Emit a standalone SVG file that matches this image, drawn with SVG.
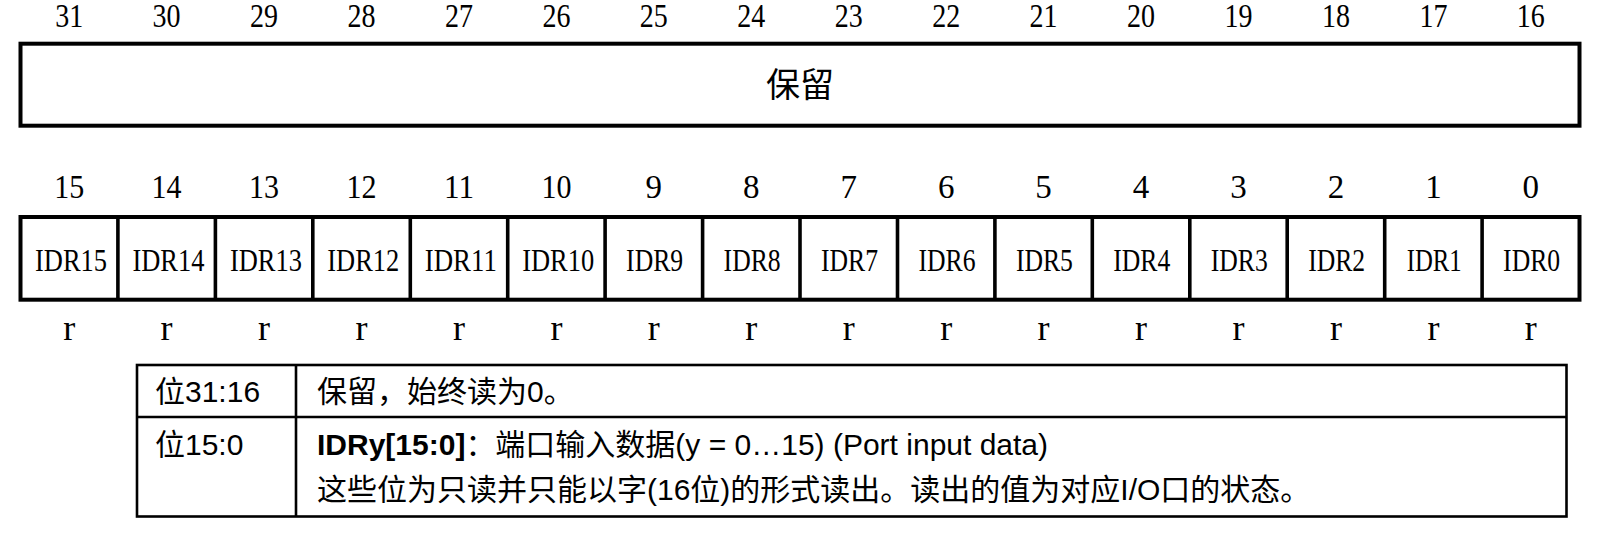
<svg xmlns="http://www.w3.org/2000/svg" width="1612" height="546" viewBox="0 0 1612 546">
<style>
.box{fill:#fff;stroke:#000;stroke-width:4}
.div{stroke:#000;stroke-width:3.6}
.num{font-family:"Liberation Serif",serif;font-size:33px;text-anchor:middle;fill:#000}
.lbl{font-family:"Liberation Serif",serif;font-size:32px;text-anchor:middle;fill:#000}
.acc{font-family:"Liberation Serif",serif;font-size:36px;text-anchor:middle;fill:#000}
.cjk{font-family:"Noto Sans CJK SC",sans-serif;font-size:34px;text-anchor:middle;fill:#000}
.tbl{fill:none;stroke:#000;stroke-width:2.6}
.tx{font-family:"Liberation Sans","Noto Sans CJK SC",sans-serif;font-size:30px;fill:#000}
</style>
<rect width="1612" height="546" fill="#fff"/>
<g id="bits-high-numbers">
<text class="num" x="69.2" y="27" textLength="28" lengthAdjust="spacingAndGlyphs">31</text>
<text class="num" x="166.6" y="27" textLength="28" lengthAdjust="spacingAndGlyphs">30</text>
<text class="num" x="264.1" y="27" textLength="28" lengthAdjust="spacingAndGlyphs">29</text>
<text class="num" x="361.5" y="27" textLength="28" lengthAdjust="spacingAndGlyphs">28</text>
<text class="num" x="459.0" y="27" textLength="28" lengthAdjust="spacingAndGlyphs">27</text>
<text class="num" x="556.4" y="27" textLength="28" lengthAdjust="spacingAndGlyphs">26</text>
<text class="num" x="653.8" y="27" textLength="28" lengthAdjust="spacingAndGlyphs">25</text>
<text class="num" x="751.3" y="27" textLength="28" lengthAdjust="spacingAndGlyphs">24</text>
<text class="num" x="848.7" y="27" textLength="28" lengthAdjust="spacingAndGlyphs">23</text>
<text class="num" x="946.2" y="27" textLength="28" lengthAdjust="spacingAndGlyphs">22</text>
<text class="num" x="1043.6" y="27" textLength="28" lengthAdjust="spacingAndGlyphs">21</text>
<text class="num" x="1141.0" y="27" textLength="28" lengthAdjust="spacingAndGlyphs">20</text>
<text class="num" x="1238.5" y="27" textLength="28" lengthAdjust="spacingAndGlyphs">19</text>
<text class="num" x="1335.9" y="27" textLength="28" lengthAdjust="spacingAndGlyphs">18</text>
<text class="num" x="1433.4" y="27" textLength="28" lengthAdjust="spacingAndGlyphs">17</text>
<text class="num" x="1530.8" y="27" textLength="28" lengthAdjust="spacingAndGlyphs">16</text>
</g>
<g id="reserved-field">
<rect class="box" x="20.5" y="43.7" width="1559" height="82"/>
<text class="cjk" x="800" y="97">保留</text>
</g>
<g id="bits-low-numbers">
<text class="num" x="69.2" y="198" textLength="30" lengthAdjust="spacingAndGlyphs">15</text>
<text class="num" x="166.6" y="198" textLength="30" lengthAdjust="spacingAndGlyphs">14</text>
<text class="num" x="264.1" y="198" textLength="30" lengthAdjust="spacingAndGlyphs">13</text>
<text class="num" x="361.5" y="198" textLength="30" lengthAdjust="spacingAndGlyphs">12</text>
<text class="num" x="459.0" y="198" textLength="30" lengthAdjust="spacingAndGlyphs">11</text>
<text class="num" x="556.4" y="198" textLength="30" lengthAdjust="spacingAndGlyphs">10</text>
<text class="num" x="653.8" y="198">9</text>
<text class="num" x="751.3" y="198">8</text>
<text class="num" x="848.7" y="198">7</text>
<text class="num" x="946.2" y="198">6</text>
<text class="num" x="1043.6" y="198">5</text>
<text class="num" x="1141.0" y="198">4</text>
<text class="num" x="1238.5" y="198">3</text>
<text class="num" x="1335.9" y="198">2</text>
<text class="num" x="1433.4" y="198">1</text>
<text class="num" x="1530.8" y="198">0</text>
</g>
<g id="idr-register">
<rect class="box" x="20.5" y="217" width="1559" height="82.7"/>
<line class="div" x1="117.9" y1="217" x2="117.9" y2="299.7"/>
<line class="div" x1="215.4" y1="217" x2="215.4" y2="299.7"/>
<line class="div" x1="312.8" y1="217" x2="312.8" y2="299.7"/>
<line class="div" x1="410.3" y1="217" x2="410.3" y2="299.7"/>
<line class="div" x1="507.7" y1="217" x2="507.7" y2="299.7"/>
<line class="div" x1="605.1" y1="217" x2="605.1" y2="299.7"/>
<line class="div" x1="702.6" y1="217" x2="702.6" y2="299.7"/>
<line class="div" x1="800.0" y1="217" x2="800.0" y2="299.7"/>
<line class="div" x1="897.5" y1="217" x2="897.5" y2="299.7"/>
<line class="div" x1="994.9" y1="217" x2="994.9" y2="299.7"/>
<line class="div" x1="1092.3" y1="217" x2="1092.3" y2="299.7"/>
<line class="div" x1="1189.8" y1="217" x2="1189.8" y2="299.7"/>
<line class="div" x1="1287.2" y1="217" x2="1287.2" y2="299.7"/>
<line class="div" x1="1384.7" y1="217" x2="1384.7" y2="299.7"/>
<line class="div" x1="1482.1" y1="217" x2="1482.1" y2="299.7"/>
<g id="idr-labels">
<text class="lbl" x="71" y="271" textLength="72" lengthAdjust="spacingAndGlyphs">IDR15</text>
<text class="lbl" x="168.4" y="271" textLength="72" lengthAdjust="spacingAndGlyphs">IDR14</text>
<text class="lbl" x="265.9" y="271" textLength="72" lengthAdjust="spacingAndGlyphs">IDR13</text>
<text class="lbl" x="363.3" y="271" textLength="72" lengthAdjust="spacingAndGlyphs">IDR12</text>
<text class="lbl" x="460.8" y="271" textLength="72" lengthAdjust="spacingAndGlyphs">IDR11</text>
<text class="lbl" x="558.2" y="271" textLength="72" lengthAdjust="spacingAndGlyphs">IDR10</text>
<text class="lbl" x="654.6" y="271" textLength="57" lengthAdjust="spacingAndGlyphs">IDR9</text>
<text class="lbl" x="752.1" y="271" textLength="57" lengthAdjust="spacingAndGlyphs">IDR8</text>
<text class="lbl" x="849.5" y="271" textLength="57" lengthAdjust="spacingAndGlyphs">IDR7</text>
<text class="lbl" x="947.0" y="271" textLength="57" lengthAdjust="spacingAndGlyphs">IDR6</text>
<text class="lbl" x="1044.4" y="271" textLength="57" lengthAdjust="spacingAndGlyphs">IDR5</text>
<text class="lbl" x="1141.8" y="271" textLength="57" lengthAdjust="spacingAndGlyphs">IDR4</text>
<text class="lbl" x="1239.3" y="271" textLength="57" lengthAdjust="spacingAndGlyphs">IDR3</text>
<text class="lbl" x="1336.7" y="271" textLength="57" lengthAdjust="spacingAndGlyphs">IDR2</text>
<text class="lbl" x="1434.2" y="271" textLength="55" lengthAdjust="spacingAndGlyphs">IDR1</text>
<text class="lbl" x="1531.6" y="271" textLength="57" lengthAdjust="spacingAndGlyphs">IDR0</text>
</g>
</g>
<g id="access-row">
<text class="acc" x="69.2" y="340">r</text>
<text class="acc" x="166.6" y="340">r</text>
<text class="acc" x="264.1" y="340">r</text>
<text class="acc" x="361.5" y="340">r</text>
<text class="acc" x="459.0" y="340">r</text>
<text class="acc" x="556.4" y="340">r</text>
<text class="acc" x="653.8" y="340">r</text>
<text class="acc" x="751.3" y="340">r</text>
<text class="acc" x="848.7" y="340">r</text>
<text class="acc" x="946.2" y="340">r</text>
<text class="acc" x="1043.6" y="340">r</text>
<text class="acc" x="1141.0" y="340">r</text>
<text class="acc" x="1238.5" y="340">r</text>
<text class="acc" x="1335.9" y="340">r</text>
<text class="acc" x="1433.4" y="340">r</text>
<text class="acc" x="1530.8" y="340">r</text>
</g>
<g id="description-table">
<rect class="tbl" x="137" y="365" width="1429.5" height="151.5"/>
<line class="tbl" x1="137" y1="417" x2="1566.5" y2="417"/>
<line class="tbl" x1="296" y1="365" x2="296" y2="516.5"/>
<text class="tx" x="155" y="402">位31:16</text>
<text class="tx" x="317" y="402">保留，始终读为0。</text>
<text class="tx" x="155" y="455">位15:0</text>
<text class="tx" x="317" y="455"><tspan font-weight="bold">IDRy[15:0]</tspan>：端口输入数据(y = 0…15) (Port input data)</text>
<text class="tx" x="317" y="500">这些位为只读并只能以字(16位)的形式读出。读出的值为对应I/O口的状态。</text>
</g>
</svg>
